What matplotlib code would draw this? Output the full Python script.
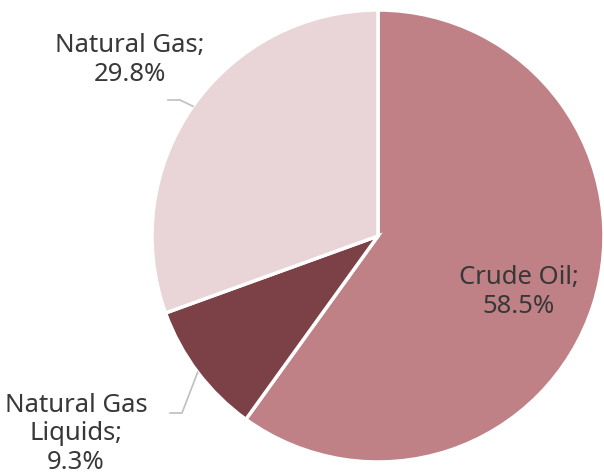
import numpy as np
import matplotlib.pyplot as plt

# Datos del gráfico
categorias = ['Crude Oil', 'Natural Gas Liquids', 'Natural Gas']
valores = [58.5, 9.3, 29.8]
etiquetas = ['Crude Oil;\n58.5%', 'Natural Gas\nLiquids;\n9.3%', 'Natural Gas;\n29.8%']
colores = ['#BF8186', '#7C4047', '#E9D4D7']

W, H = 604, 476
CX, CY, R = 378, 236, 226

fig = plt.figure(figsize=(W / 100, H / 100), dpi=100)
ax = fig.add_axes([(CX - R) / W, (H - CY - R) / H, 2 * R / W, 2 * R / H])

wedges, _ = ax.pie(valores, colors=colores, startangle=90, counterclock=False,
                   radius=1, wedgeprops=dict(edgecolor='white', linewidth=2.5))
ax.set_xlim(-1, 1)
ax.set_ylim(-1, 1)
ax.set_aspect('equal')
ax.axis('off')


def px(x, y):
    # pixeles -> coordenadas de datos
    return (x - CX) / R, (CY - y) / R


font = dict(family=['Noto Sans', 'DejaVu Sans'], fontsize=18.5,
            color='#383838', ha='center', va='center', linespacing=1.2)

# Crude Oil (dentro)
ax.text(*px(519, 292), etiquetas[0], **font)

# Natural Gas Liquids (fuera, con linea guia)
ax.text(*px(76, 434), etiquetas[1], clip_on=False, **font)
# Natural Gas (fuera, con linea guia)
ax.text(*px(130, 60), etiquetas[2], clip_on=False, **font)

for w, codo, fin in [(wedges[1], (182, 413), (170, 413)),
                     (wedges[2], (180, 100), (168, 100))]:
    ang = np.deg2rad((w.theta1 + w.theta2) / 2)
    x0, y0 = np.cos(ang), np.sin(ang)
    x1, y1 = px(*codo)
    x2, y2 = px(*fin)
    ax.plot([x0, x1, x2], [y0, y1, y2], color='#BFBFBF', lw=1.2,
            clip_on=False, solid_joinstyle='miter')

fig.savefig('out.png', dpi=100, facecolor='white')
